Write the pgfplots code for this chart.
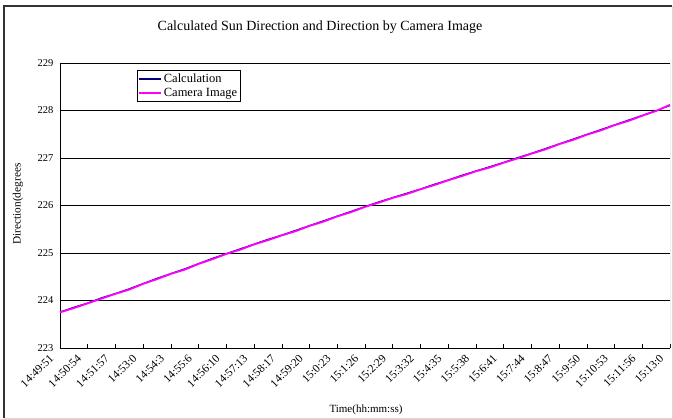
\documentclass[border=0pt]{standalone}
\usepackage{pgfplots}
\pgfplotsset{compat=1.18}
\usepackage{fontspec}
\setmainfont{Liberation Serif}
\definecolor{calc}{RGB}{0,0,128}
\definecolor{cam}{RGB}{255,0,255}
\begin{document}
\begin{tikzpicture}[x=1pt,y=1pt]
\useasboundingbox (0,0) rectangle (673,419);
\draw[line width=0.8pt, black!15] (672,413) -- (672,1) -- (4,1);
\draw[line width=1.4pt, black!80] (4,1) -- (4,413) -- (672,413);
\node[font=\fontsize{14}{16}\selectfont] at (320,392) {Calculated Sun Direction and Direction by Camera Image};
\node[font=\fontsize{11.3}{13}\selectfont, rotate=90] at (18,215) {Direction(degrees};
\node[font=\fontsize{11}{13}\selectfont] at (366,9) {Time(hh:mm:ss)};
\begin{axis}[
  at={(60pt,71pt)}, anchor=south west, scale only axis,
  width=610pt, height=285pt,
  xmin=0, xmax=22, ymin=223, ymax=229,
  ytick={223,224,...,229},
  xtick={0,1,...,22},
  xticklabels={14:49:51,14:50:54,14:51:57,14:53:0,14:54:3,14:55:6,14:56:10,14:57:13,14:58:17,14:59:20,15:0:23,15:1:26,15:2:29,15:3:32,15:4:35,15:5:38,15:6:41,15:7:44,15:8:47,15:9:50,15:10:53,15:11:56,15:13:0},
  x tick label style={xshift=-8pt, yshift=-8pt, rotate=45, anchor=east, font=\fontsize{11.5}{13}\selectfont, inner sep=0.5pt},
  y tick label style={font=\fontsize{10.5}{12}\selectfont, xshift=-3pt},
  /pgf/number format/assume math mode=true,
  ymajorgrids, grid style={black, line width=0.6pt},
  axis x line*=bottom, axis y line*=left,
  axis line style={black, line width=0.8pt},
  tick align=inside, major tick length=4pt,
  tick style={black, line width=0.6pt},
  legend style={at={(axis description cs:0.126,0.975)}, anchor=north west, draw=black, line width=0.6pt,
    font=\fontsize{12.5}{14}\selectfont, inner sep=1.5pt, row sep=0pt},
  legend cell align=left,
  legend image code/.code={\draw[#1, line width=1.2pt] (0pt,0pt) -- (22pt,0pt);},
]
\draw[black!45, line width=0.6pt] (rel axis cs:1,0) -- (rel axis cs:1,1);
\addplot[calc, line width=0.9pt] coordinates {
(0,223.76)(0.5,223.86)(1,223.95)(1.5,224.06)(2,224.15)(2.5,224.25)(3,224.36)(3.5,224.47)
(4,224.57)(4.5,224.67)(5,224.78)(5.5,224.89)(6,224.99)(6.5,225.09)(7,225.19)(7.5,225.29)
(8,225.38)(8.5,225.48)(9,225.58)(9.5,225.68)(10,225.78)(10.5,225.88)(11,225.98)(11.5,226.08)
(12,226.17)(12.5,226.26)(13,226.35)(13.5,226.45)(14,226.54)(14.5,226.64)(15,226.73)(15.5,226.82)
(16,226.91)(16.5,227.01)(17,227.10)(17.5,227.20)(18,227.30)(18.5,227.40)(19,227.50)(19.5,227.60)
(20,227.70)(20.5,227.80)(21,227.90)(21.5,228.00)(22,228.10)};
\addlegendentry{Calculation}
\addplot[cam, line width=1.8pt] coordinates {
(0,223.75)(0.5,223.84)(1,223.94)(1.5,224.04)(2,224.14)(2.5,224.23)(3,224.35)(3.5,224.45)
(4,224.56)(4.5,224.65)(5,224.77)(5.5,224.87)(6,224.98)(6.5,225.07)(7,225.18)(7.5,225.27)
(8,225.37)(8.5,225.46)(9,225.57)(9.5,225.66)(10,225.77)(10.5,225.86)(11,225.97)(11.5,226.06)
(12,226.16)(12.5,226.24)(13,226.34)(13.5,226.43)(14,226.53)(14.5,226.62)(15,226.72)(15.5,226.80)
(16,226.90)(16.5,226.99)(17,227.09)(17.5,227.18)(18,227.29)(18.5,227.38)(19,227.49)(19.5,227.58)
(20,227.69)(20.5,227.78)(21,227.89)(21.5,227.99)(22,228.12)};
\addlegendentry{Camera Image}
\end{axis}
\end{tikzpicture}
\end{document}
